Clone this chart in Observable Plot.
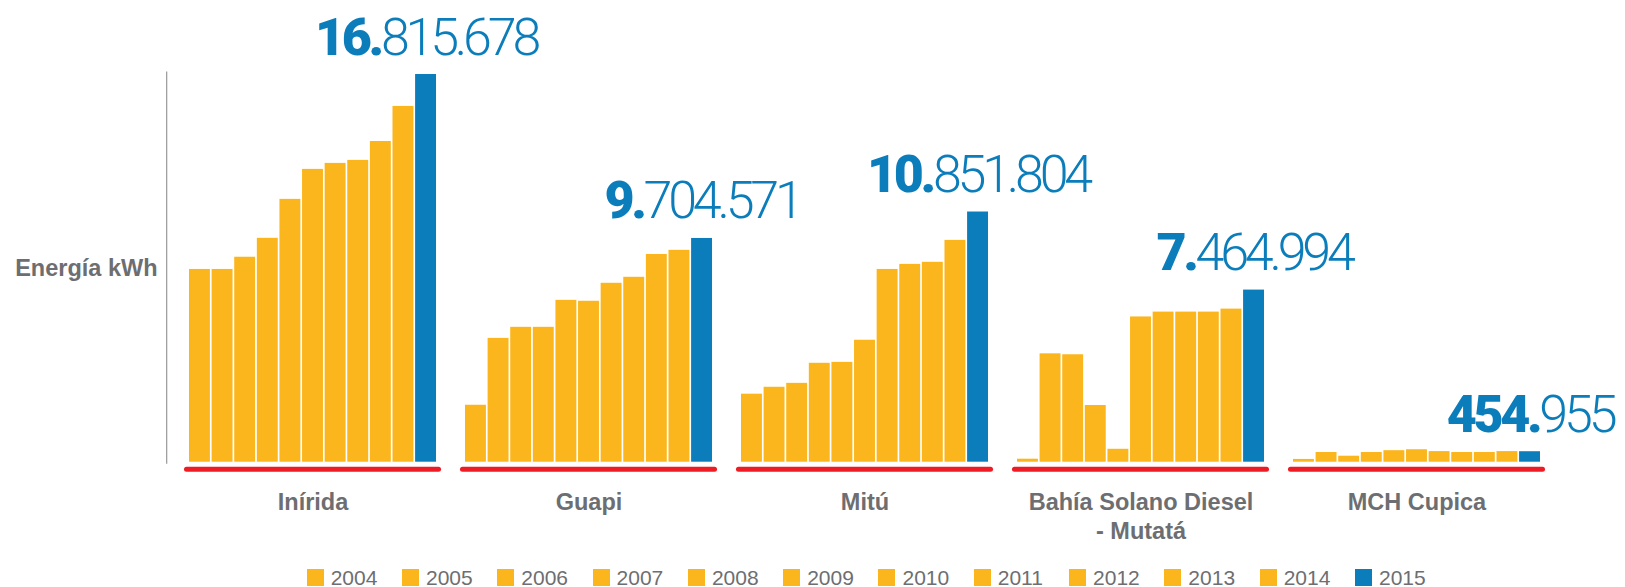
<!DOCTYPE html>
<html><head><meta charset="utf-8">
<script src="https://cdn.jsdelivr.net/npm/d3@7"></script>
<script src="https://cdn.jsdelivr.net/npm/@observablehq/plot@0.6"></script>
<style>
html,body{margin:0;padding:0;overflow:hidden;background:#fff;}
#legend{display:flex;margin-left:306.7px;margin-top:18px;font-family:"Liberation Sans",Arial,sans-serif;font-size:21px;color:#6d6e71;}
.item{display:flex;align-items:flex-start;width:95.3px;flex:none;}
.sw{width:17px;height:17px;margin-top:1px;margin-right:7px;flex:none;}
.lb{line-height:20px;white-space:nowrap;}
</style></head><body>
<div id="chart"></div>
<div id="legend"></div>
<script>
// ---- data ----
const groups = ["Inírida", "Guapi", "Mitú", "Bahía Solano Diesel - Mutatá", "MCH Cupica"];
const legendYears = ["2004","2005","2006","2007","2008","2009","2010","2011","2012","2013","2014","2015"];
const legendColors = ["#fbb61d","#fbb61d","#fbb61d","#fbb61d","#fbb61d","#fbb61d","#fbb61d","#fbb61d","#fbb61d","#fbb61d","#fbb61d","#0c7dbb"];
const barYears = ["2005","2006","2007","2008","2009","2010","2011","2012","2013","2014","2015"];
const inirida = [8360000, 8360000, 8890000, 9710000, 11400000, 12700000, 12960000, 13090000, 13910000, 15430000, 16815678];
const guapi   = [2470000, 5370000, 5850000, 5850000, 7020000, 6980000, 7760000, 8020000, 9010000, 9190000, 9704571];
const mitu    = [2950000, 3250000, 3420000, 4290000, 4330000, 5290000, 8360000, 8580000, 8670000, 9620000, 10851804];
const bahia   = [130000, 4700000, 4660000, 2460000, 560000, 6300000, 6510000, 6510000, 6510000, 6640000, 7464994];
const cupica  = [120000, 420000, 260000, 420000, 500000, 540000, 460000, 420000, 420000, 460000, 454955];
const highlightYear = "2015";
const yLabel = "Energía kWh";

const seriesByGroup = [inirida, guapi, mitu, bahia, cupica];
const rows = [];
groups.forEach((g, gi) => barYears.forEach((y, yi) => rows.push({group: g, year: y, value: seriesByGroup[gi][yi]})));
const highlights = rows.filter(d => d.year === highlightYear);
const maxValue = d3.max(rows, d => d.value);

const fmt = d3.formatLocale({decimal: ",", thousands: ".", grouping: [3], currency: ["", ""]}).format(",d");
const labelSet = new Set(highlights.map(d => fmt(d.value)));

const GRAY = "#6d6e71", RED = "#ed1c24", BLUE = "#0c7dbb";

const svg = Plot.plot({
  width: 1625,
  height: 550,
  marginLeft: 189,
  marginRight: 85,
  marginTop: 74,
  marginBottom: 88.3,
  style: {fontFamily: "'Liberation Sans', Arial, sans-serif", background: "#fff", overflow: "visible"},
  fx: {domain: groups, paddingInner: 0.105, paddingOuter: 0, round: false},
  x: {domain: barYears, paddingInner: 0.075, paddingOuter: 0, round: false, axis: null},
  y: {domain: [0, maxValue], axis: null},
  color: {domain: legendYears, range: legendColors},
  marks: [
    Plot.barY(rows, {fx: "group", x: "year", y: "value", fill: "year"}),
    Plot.ruleY([0], {stroke: RED, strokeWidth: 5, strokeLinecap: "round", dy: 7, insetLeft: -2.5, insetRight: -2.5}),
    Plot.ruleX([groups[0]], {fx: d => d, x: () => barYears[0], y1: 0, y2: maxValue, dx: -33.3, insetTop: 2, insetBottom: 2.5, stroke: "#a0a0a0", strokeWidth: 1.3}),
    Plot.text([yLabel], {fx: () => groups[0], text: d => d, frameAnchor: "left", textAnchor: "end", dx: -32, fontSize: 23.5, fontWeight: "bold", fill: GRAY}),
    Plot.text(highlights, {fx: "group", x: "year", y: "value", text: d => fmt(d.value), dy: -20, lineAnchor: "bottom", textAnchor: "middle", fontSize: 52, fill: BLUE}),
    Plot.axisFx({anchor: "bottom", tickSize: 0, tickPadding: 27.6, fontSize: 23.5, fontWeight: "bold", fill: GRAY, label: null,
      tickFormat: d => d.replace(" - ", "\n- "), lineHeight: 1.23})
  ]
});

// split each value label into a heavy part and a light part
const NS = "http://www.w3.org/2000/svg";
svg.querySelectorAll("text").forEach(t => {
  const s = t.textContent;
  if (!labelSet.has(s)) return;
  const k = s.indexOf(".") + 1;
  while (t.firstChild) t.removeChild(t.firstChild);
  t.setAttribute("font-family", "Roboto, 'Liberation Sans', sans-serif");
  t.style.fontFamily = "Roboto, 'Liberation Sans', sans-serif";
  const a = document.createElementNS(NS, "tspan");
  a.setAttribute("font-weight", "900");
  a.style.fontWeight = "900";
  a.style.letterSpacing = "-3.4px";
  a.textContent = s.slice(0, k);
  const b = document.createElementNS(NS, "tspan");
  b.setAttribute("font-weight", "300");
  b.style.fontWeight = "300";
  b.style.letterSpacing = "-4.2px";
  b.textContent = s.slice(k);
  t.appendChild(a); t.appendChild(b);
});
document.getElementById("chart").appendChild(svg);

// legend
const legend = document.getElementById("legend");
legendYears.forEach((y, i) => {
  const it = document.createElement("div"); it.className = "item";
  const sw = document.createElement("div"); sw.className = "sw"; sw.style.background = legendColors[i];
  const lb = document.createElement("div"); lb.className = "lb"; lb.textContent = y;
  it.appendChild(sw); it.appendChild(lb); legend.appendChild(it);
});
</script></body></html>
